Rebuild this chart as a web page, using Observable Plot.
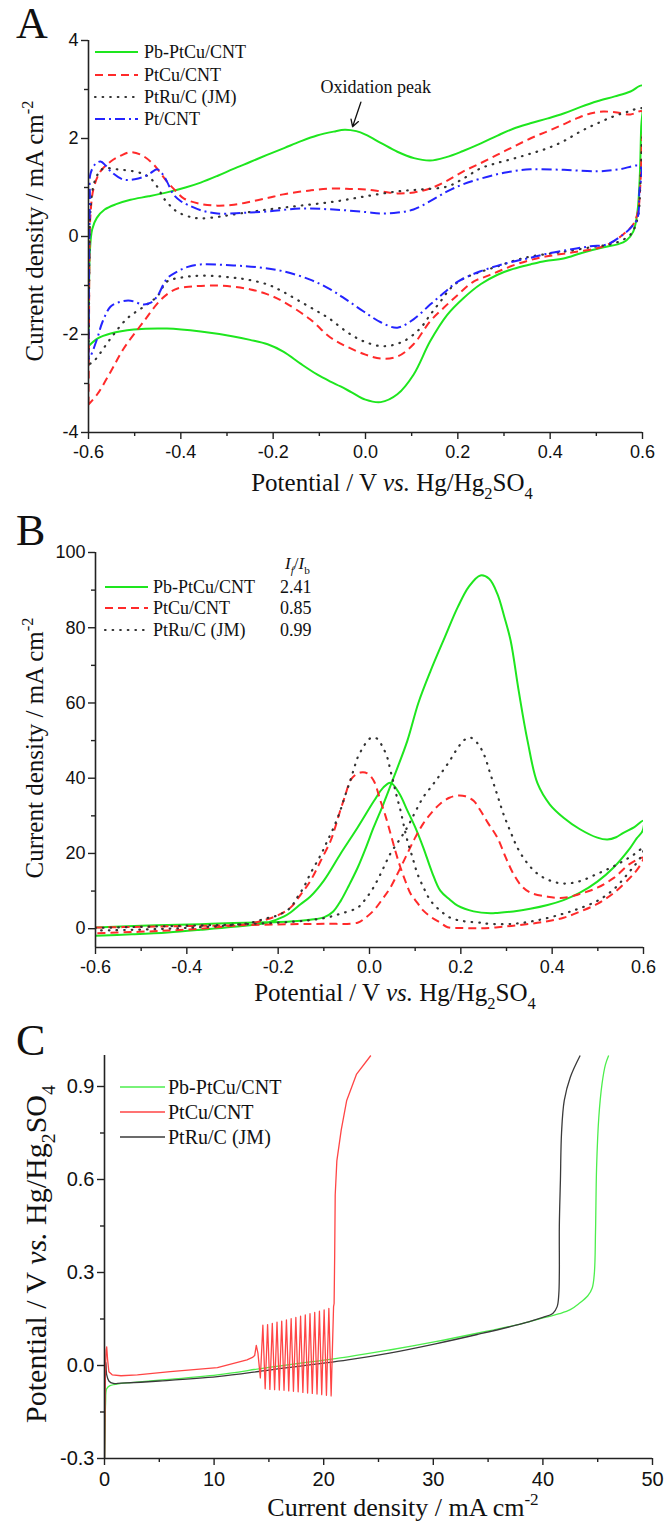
<!DOCTYPE html>
<html><head><meta charset="utf-8">
<script src="https://cdn.jsdelivr.net/npm/d3@7"></script>
<script src="https://cdn.jsdelivr.net/npm/@observablehq/plot@0.6"></script>
<style>
body{margin:0;background:#fff;}
#wrap{position:relative;width:672px;height:1527px;overflow:hidden;}
#wrap svg{position:absolute;left:0;background:transparent;}
</style></head><body><div id="wrap"></div>
<script>
// ---------------- DATA ----------------
// Panel A : cyclic voltammograms, [potential V, current density mA cm-2]
const aPbPtCu = [[-0.600,-2.24],[-0.599,-1.2],[-0.597,-0.3],[-0.592,0.15],[-0.582,0.38],[-0.565,0.55],[-0.54,0.66],[-0.509,0.75],[-0.47,0.82],[-0.43,0.9],[-0.39,1.0],[-0.357,1.1],[-0.32,1.24],[-0.286,1.38],[-0.25,1.52],[-0.212,1.67],[-0.175,1.81],[-0.141,1.94],[-0.105,2.06],[-0.069,2.14],[-0.045,2.18],[-0.02,2.15],[0.0,2.08],[0.035,1.9],[0.069,1.73],[0.105,1.6],[0.14,1.55],[0.175,1.62],[0.21,1.74],[0.25,1.9],[0.286,2.06],[0.32,2.2],[0.357,2.31],[0.395,2.41],[0.429,2.51],[0.465,2.64],[0.502,2.76],[0.54,2.86],[0.574,2.96],[0.6,3.08],[0.597,2.2],[0.594,1.2],[0.589,0.5],[0.58,0.1],[0.565,-0.08],[0.546,-0.16],[0.516,-0.22],[0.47,-0.33],[0.429,-0.45],[0.39,-0.5],[0.357,-0.57],[0.32,-0.66],[0.286,-0.78],[0.25,-0.97],[0.212,-1.26],[0.177,-1.6],[0.14,-2.14],[0.104,-2.82],[0.069,-3.22],[0.033,-3.38],[0.0,-3.33],[-0.03,-3.18],[-0.054,-3.06],[-0.076,-2.96],[-0.104,-2.82],[-0.14,-2.6],[-0.178,-2.35],[-0.212,-2.2],[-0.25,-2.11],[-0.286,-2.04],[-0.357,-1.94],[-0.43,-1.88],[-0.502,-1.9],[-0.552,-1.98],[-0.58,-2.08],[-0.6,-2.24]];
const aPtCu = [[-0.6,-3.43],[-0.599,-2.0],[-0.598,-0.5],[-0.596,0.4],[-0.589,0.98],[-0.574,1.33],[-0.552,1.53],[-0.53,1.65],[-0.509,1.72],[-0.485,1.66],[-0.459,1.47],[-0.43,1.12],[-0.41,0.92],[-0.394,0.78],[-0.36,0.67],[-0.321,0.63],[-0.285,0.65],[-0.249,0.71],[-0.21,0.79],[-0.178,0.86],[-0.12,0.94],[-0.069,0.98],[-0.03,0.97],[0.0,0.96],[0.035,0.92],[0.069,0.88],[0.105,0.9],[0.14,0.98],[0.175,1.13],[0.212,1.33],[0.25,1.5],[0.286,1.67],[0.32,1.83],[0.357,2.0],[0.395,2.15],[0.429,2.29],[0.46,2.42],[0.487,2.51],[0.515,2.55],[0.545,2.53],[0.574,2.49],[0.6,2.55],[0.598,1.8],[0.595,1.0],[0.59,0.5],[0.58,0.25],[0.558,0.04],[0.53,-0.14],[0.502,-0.24],[0.465,-0.3],[0.429,-0.35],[0.39,-0.41],[0.357,-0.48],[0.32,-0.59],[0.286,-0.72],[0.26,-0.82],[0.234,-0.92],[0.2,-1.19],[0.17,-1.45],[0.14,-1.73],[0.104,-2.2],[0.069,-2.45],[0.033,-2.49],[0.0,-2.41],[-0.04,-2.25],[-0.076,-2.06],[-0.12,-1.69],[-0.178,-1.33],[-0.215,-1.17],[-0.249,-1.08],[-0.29,-1.02],[-0.335,-1.0],[-0.375,-1.02],[-0.407,-1.06],[-0.43,-1.18],[-0.451,-1.37],[-0.48,-1.73],[-0.524,-2.29],[-0.552,-2.76],[-0.581,-3.22],[-0.6,-3.43]];
const aPtRu = [[-0.6,-2.61],[-0.599,-1.5],[-0.598,-0.3],[-0.596,0.5],[-0.589,1.05],[-0.578,1.3],[-0.567,1.39],[-0.537,1.37],[-0.502,1.33],[-0.48,1.27],[-0.466,1.19],[-0.45,1.0],[-0.437,0.78],[-0.42,0.6],[-0.407,0.5],[-0.38,0.4],[-0.357,0.37],[-0.32,0.4],[-0.286,0.45],[-0.212,0.55],[-0.141,0.63],[-0.069,0.71],[0.0,0.82],[0.069,0.92],[0.12,0.96],[0.177,1.02],[0.215,1.2],[0.249,1.39],[0.285,1.5],[0.321,1.59],[0.357,1.69],[0.394,1.8],[0.43,1.95],[0.465,2.14],[0.5,2.3],[0.537,2.45],[0.57,2.55],[0.6,2.61],[0.598,1.8],[0.595,1.0],[0.59,0.4],[0.575,0.05],[0.55,-0.1],[0.525,-0.17],[0.502,-0.2],[0.429,-0.31],[0.357,-0.41],[0.32,-0.5],[0.286,-0.61],[0.25,-0.72],[0.212,-0.86],[0.185,-1.05],[0.162,-1.33],[0.14,-1.6],[0.118,-1.88],[0.082,-2.14],[0.039,-2.24],[-0.004,-2.14],[-0.04,-1.95],[-0.076,-1.69],[-0.1,-1.55],[-0.141,-1.33],[-0.18,-1.12],[-0.212,-0.98],[-0.25,-0.89],[-0.286,-0.84],[-0.357,-0.8],[-0.4,-0.84],[-0.43,-0.92],[-0.451,-1.22],[-0.48,-1.43],[-0.516,-1.67],[-0.552,-2.08],[-0.589,-2.55],[-0.6,-2.61]];
const aPt = [[-0.6,-2.5],[-0.599,-1.0],[-0.598,0.0],[-0.597,0.8],[-0.596,1.27],[-0.585,1.48],[-0.574,1.53],[-0.563,1.45],[-0.552,1.33],[-0.524,1.16],[-0.5,1.17],[-0.48,1.22],[-0.465,1.3],[-0.451,1.37],[-0.44,1.28],[-0.43,1.12],[-0.416,0.86],[-0.4,0.72],[-0.386,0.65],[-0.355,0.53],[-0.321,0.47],[-0.27,0.48],[-0.212,0.51],[-0.141,0.57],[-0.069,0.55],[0.0,0.5],[0.033,0.47],[0.07,0.49],[0.104,0.55],[0.14,0.72],[0.177,0.92],[0.21,1.06],[0.249,1.18],[0.3,1.3],[0.357,1.37],[0.43,1.36],[0.502,1.33],[0.55,1.37],[0.595,1.43],[0.593,0.9],[0.589,0.37],[0.575,0.18],[0.558,0.04],[0.524,-0.16],[0.487,-0.2],[0.44,-0.27],[0.394,-0.35],[0.36,-0.43],[0.321,-0.51],[0.285,-0.6],[0.249,-0.71],[0.2,-0.92],[0.17,-1.15],[0.14,-1.39],[0.104,-1.69],[0.069,-1.86],[0.033,-1.75],[-0.004,-1.53],[-0.04,-1.3],[-0.076,-1.08],[-0.12,-0.88],[-0.178,-0.71],[-0.23,-0.63],[-0.286,-0.59],[-0.357,-0.57],[-0.385,-0.62],[-0.407,-0.71],[-0.43,-0.86],[-0.451,-1.22],[-0.465,-1.35],[-0.48,-1.39],[-0.509,-1.31],[-0.53,-1.33],[-0.552,-1.43],[-0.57,-1.75],[-0.581,-2.08],[-0.596,-2.45],[-0.6,-2.5]];

// Panel B : methanol oxidation, [potential V, current density mA cm-2]
const bPbPtCu = [[-0.6,0.3],[-0.5,0.8],[-0.442,1.0],[-0.37,1.2],[-0.298,1.5],[-0.224,1.7],[-0.173,1.9],[-0.13,2.4],[-0.1,3.0],[-0.08,4.5],[-0.063,7.4],[-0.045,11.5],[-0.026,16.2],[-0.008,21.5],[0.009,26.9],[0.03,33],[0.053,40.2],[0.083,50],[0.107,60],[0.134,68.6],[0.165,77.5],[0.193,85.4],[0.218,91],[0.243,93.9],[0.262,93],[0.28,89],[0.295,83],[0.309,76.6],[0.327,63],[0.346,50],[0.368,38.6],[0.395,33],[0.425,29.5],[0.46,26.5],[0.499,24.2],[0.521,23.7],[0.54,24.3],[0.556,25.5],[0.58,27],[0.6,28.7],[0.598,26],[0.585,24],[0.571,21.5],[0.534,16.2],[0.499,12.5],[0.46,9.5],[0.425,7.6],[0.39,6.3],[0.352,5.3],[0.315,4.6],[0.28,4.2],[0.265,4.1],[0.228,4.6],[0.193,6.1],[0.175,7.8],[0.155,10.1],[0.137,15],[0.118,21.5],[0.1,27],[0.083,31.4],[0.065,36],[0.046,38.8],[0.03,37.5],[0.01,34],[-0.026,26.9],[-0.063,20],[-0.1,12.8],[-0.13,8.5],[-0.151,6.5],[-0.173,4.3],[-0.188,3.2],[-0.224,1.6],[-0.298,0.5],[-0.37,-0.3],[-0.442,-1.0],[-0.52,-1.5],[-0.6,-1.9]];
const bPtCu = [[-0.6,0.3],[-0.5,0.5],[-0.4,0.7],[-0.3,0.9],[-0.173,1.2],[-0.1,1.3],[-0.026,1.6],[-0.01,2.8],[0.009,4.8],[0.028,7.8],[0.046,11],[0.065,15.5],[0.083,20],[0.1,24.2],[0.118,28],[0.137,31],[0.155,33.2],[0.175,34.8],[0.193,35.4],[0.21,35.2],[0.228,34],[0.243,31.4],[0.26,28],[0.28,24.2],[0.298,19],[0.315,14.6],[0.332,11.5],[0.352,9.6],[0.39,8.5],[0.425,8.2],[0.46,9.2],[0.499,10.9],[0.535,13.5],[0.571,17.3],[0.6,18.9],[0.598,18],[0.585,15.5],[0.571,13.6],[0.535,9.5],[0.499,6.6],[0.46,4.5],[0.425,2.9],[0.39,2.0],[0.352,1.3],[0.3,0.6],[0.243,0.1],[0.2,0.2],[0.171,0.4],[0.155,1.6],[0.136,3.0],[0.118,4.8],[0.104,7],[0.09,9.3],[0.079,12.5],[0.068,16.2],[0.057,20.5],[0.046,25.3],[0.035,30],[0.024,34],[0.009,39.4],[-0.005,41.3],[-0.02,41.5],[-0.032,40.8],[-0.042,39.4],[-0.053,35.5],[-0.064,31.4],[-0.075,27],[-0.085,23.4],[-0.107,18],[-0.129,12.8],[-0.151,9],[-0.173,5.6],[-0.2,3.6],[-0.224,2.5],[-0.26,1.4],[-0.298,0.8],[-0.37,0],[-0.442,-0.5],[-0.52,-0.9],[-0.6,-1.2]];
const bPtRu = [[-0.6,0.2],[-0.5,0.5],[-0.4,0.8],[-0.3,1.1],[-0.173,1.8],[-0.1,2.8],[-0.063,4],[-0.026,5.6],[-0.008,8],[0.009,11],[0.028,15.5],[0.046,20],[0.065,23.5],[0.083,27],[0.1,31],[0.118,35],[0.137,38],[0.155,41],[0.175,44.5],[0.193,48],[0.208,50.2],[0.221,50.8],[0.235,49.5],[0.25,46.5],[0.265,41],[0.28,35.5],[0.293,30.6],[0.308,26],[0.324,21.5],[0.345,17.5],[0.368,14.6],[0.395,12.8],[0.425,12],[0.46,12.6],[0.499,14.6],[0.53,16.3],[0.556,18],[0.58,19.8],[0.6,21.5],[0.598,20],[0.585,17.5],[0.571,15.4],[0.535,10.5],[0.499,7.4],[0.46,5.4],[0.425,4],[0.37,2.3],[0.315,1.3],[0.26,1.3],[0.243,1.6],[0.206,2.0],[0.177,2.9],[0.155,4.8],[0.134,7.4],[0.12,10.5],[0.105,14.6],[0.094,19],[0.083,23.4],[0.075,27.5],[0.068,31.4],[0.06,35],[0.053,38.6],[0.046,42],[0.039,45.5],[0.028,48.5],[0.017,50.5],[0.005,50.8],[-0.004,50],[-0.015,48],[-0.026,45.5],[-0.034,42.5],[-0.042,39.4],[-0.053,35.5],[-0.064,31.4],[-0.078,27],[-0.092,23.4],[-0.103,20.5],[-0.114,18],[-0.13,14.5],[-0.144,11],[-0.16,8],[-0.173,5.6],[-0.2,3.6],[-0.224,2.8],[-0.26,1.6],[-0.298,1.0],[-0.37,0.4],[-0.442,0],[-0.52,-0.3],[-0.6,-0.5]];
const bRatios = ["2.41", "0.85", "0.99"];

// Panel C : chronopotentiometry, [current density mA cm-2, potential V]
const cPbPtCu = [[0,-0.3],[0.05,-0.2],[0.1,-0.12],[0.2,-0.075],[0.5,-0.065],[1.5,-0.058],[2.4,-0.055],[5,-0.047],[10.3,-0.03],[15,-0.006],[22.2,0.028],[26,0.05],[30.2,0.077],[34,0.104],[38.1,0.135],[40.2,0.155],[41.5,0.167],[42.5,0.18],[43.3,0.2],[44.1,0.225],[44.5,0.25],[44.7,0.3],[44.8,0.43],[44.9,0.64],[45.1,0.8],[45.4,0.91],[45.7,0.97],[46.0,1.0]];
const cPtRu = [[0,-0.3],[0.03,-0.1],[0.06,0.0],[0.12,0.01],[0.2,-0.03],[0.4,-0.05],[0.8,-0.058],[1.5,-0.057],[5,-0.05],[10.3,-0.036],[15,-0.015],[22.2,0.018],[26,0.04],[30.2,0.07],[34,0.1],[38.1,0.135],[40,0.155],[40.9,0.168],[41.3,0.19],[41.45,0.23],[41.5,0.3],[41.5,0.45],[41.6,0.6],[41.7,0.75],[41.95,0.855],[42.5,0.93],[43.4,1.0]];
const cPtCuStart = [[0,-0.3],[0.05,-0.1],[0.1,0.0],[0.15,0.05],[0.2,0.06],[0.28,0.02],[0.4,-0.02],[0.7,-0.03],[1.5,-0.033],[3,-0.03],[6,-0.02],[10.3,-0.007],[13,0.018],[13.5,0.026],[13.7,0.032],[13.85,0.065],[14.0,0.04]];
const cPtCuTroughI = [14.22,14.66,15.09,15.52,15.95,16.38,16.81,17.24,17.67,18.1,18.53,18.96,19.39,19.82,20.25,20.68];
const cPtCuTroughV = [-0.04,-0.075,-0.077,-0.078,-0.079,-0.08,-0.082,-0.083,-0.085,-0.087,-0.089,-0.09,-0.092,-0.094,-0.096,-0.098];
const cPtCuPeakI = [14.45,14.88,15.31,15.74,16.17,16.6,17.03,17.46,17.89,18.32,18.75,19.18,19.61,20.04,20.47,20.9];
const cPtCuPeakV = [0.13,0.132,0.136,0.14,0.143,0.147,0.151,0.155,0.159,0.163,0.167,0.171,0.175,0.179,0.184,0.19];
const cPtCuEnd = [[20.95,0.2],[21.0,0.35],[21.05,0.55],[21.2,0.66],[21.6,0.76],[22.1,0.855],[23.0,0.94],[24.3,1.0]];

const names = ["Pb-PtCu/CNT", "PtCu/CNT", "PtRu/C (JM)", "Pt/CNT"];

// ---------------- STYLE ----------------
const SERIF = "'Liberation Serif','Times New Roman',Times,serif";
const SANS = "'Liberation Sans',Arial,Helvetica,sans-serif";
const AX = "#222";
const styA = [
  {stroke: "#1ee61e", dash: null, w: 2},
  {stroke: "#ff2a2a", dash: "8,5", w: 2},
  {stroke: "#333", dash: "0.6,7", w: 2.2, cap: "round"},
  {stroke: "#2424ff", dash: "10,4,2,4", w: 2}
];
const styC = [
  {stroke: "#4cee4c", dash: null, w: 1.3},
  {stroke: "#ff4545", dash: null, w: 1.3},
  {stroke: "#3a3a3a", dash: null, w: 1.3}
];

const wrap = document.getElementById("wrap");

function richText(sel, parts, size) {
  let shift = 0;
  for (const p of parts) {
    const ts = sel.append("tspan").text(p.t);
    const target = p.sub ? size * 0.3 : p.sup ? -size * 0.42 : 0;
    const dy = target - shift;
    if (dy) ts.attr("dy", dy);
    shift = target;
    if (p.sub || p.sup) ts.attr("font-size", size * 0.66);
    if (p.it) ts.attr("font-style", "italic");
  }
}
function addTitle(svg, x, y, parts, size, rotate) {
  const t = d3.select(svg).append("text")
    .attr("transform", `translate(${x},${y})` + (rotate ? " rotate(-90)" : ""))
    .attr("text-anchor", "middle").attr("font-family", SERIF)
    .attr("font-size", size).attr("fill", "#111");
  richText(t, parts, size);
}
function addLetter(svg, x, y, s, size) {
  d3.select(svg).append("text").attr("x", x).attr("y", y).attr("font-family", SERIF)
    .attr("text-anchor", "start").attr("font-size", size).attr("fill", "#111").text(s);
}
function addLegend(svg, x0, x1, xt, rows, sty, size, rowsY) {
  const g = d3.select(svg).append("g").attr("text-anchor", "start");
  rows.forEach((name, i) => {
    const s = sty[i], y = rowsY[i];
    const l = g.append("line").attr("x1", x0).attr("x2", x1).attr("y1", y).attr("y2", y)
      .attr("stroke", s.stroke).attr("stroke-width", s.w);
    if (s.dash) l.attr("stroke-dasharray", s.dash);
    if (s.cap) l.attr("stroke-linecap", s.cap);
    g.append("text").attr("x", xt).attr("y", y + size * 0.33).attr("font-family", SERIF)
      .attr("text-anchor", "start").attr("font-size", size).attr("fill", "#111").text(name);
  });
  return g;
}

const potParts = [{t: "Potential / V "}, {t: "vs.", it: true}, {t: " Hg/Hg"}, {t: "2", sub: true}, {t: "SO"}, {t: "4", sub: true}];
const curParts = [{t: "Current density / mA cm"}, {t: "-2", sup: true}];

function makePanel(cfg) {
  const marks = [
    Plot.axisX(cfg.xTicks, {tickSize: 7, tickPadding: cfg.xPad, tickFormat: cfg.xFmt, fontSize: cfg.tickFont, label: null, strokeWidth: 1.4, stroke: AX, fill: "#111"}),
    Plot.axisX(cfg.xMinor, {tickSize: 4, tickFormat: () => "", label: null, strokeWidth: 1.4, stroke: AX}),
    Plot.axisY(cfg.yTicks, {tickSize: 7, tickPadding: 3, tickFormat: cfg.yFmt, fontSize: cfg.tickFont, label: null, strokeWidth: 1.4, stroke: AX, fill: "#111"}),
    Plot.axisY(cfg.yMinor, {tickSize: 4, tickFormat: () => "", label: null, strokeWidth: 1.4, stroke: AX}),
    ...cfg.series.map(s => Plot.line(s.data, {
      x: d => d[0], y: d => d[1], stroke: s.stroke, strokeWidth: s.w,
      strokeDasharray: s.dash || undefined, strokeLinecap: s.cap || "butt",
      strokeLinejoin: "round", curve: s.curve || "catmull-rom", clip: true
    })),
    ...(cfg.extra || []),
    Plot.ruleX([cfg.xDomain[0]], {stroke: AX, strokeWidth: 1.6}),
    Plot.ruleY([cfg.yDomain[0]], {stroke: AX, strokeWidth: 1.6})
  ];
  const svg = Plot.plot({
    width: 672, height: cfg.height,
    marginTop: cfg.mt, marginBottom: cfg.mb, marginLeft: cfg.ml, marginRight: cfg.mr,
    x: {domain: cfg.xDomain, axis: null},
    y: {domain: cfg.yDomain, axis: null},
    style: {fontFamily: SANS, fontSize: cfg.tickFont + "px", color: "#111", background: "transparent", overflow: "visible"},
    marks
  });
  svg.style.top = cfg.top + "px";
  wrap.appendChild(svg);
  return svg;
}

const range = (a, b, s) => d3.range(0, Math.round((b - a) / s) + 1).map(i => +(a + i * s).toFixed(4));

// ---------------- PANEL A ----------------
const svgA = makePanel({
  top: 0, height: 505, mt: 40, mb: 73, ml: 88, mr: 30, xPad: 6,
  xDomain: [-0.6, 0.6], yDomain: [-4, 4],
  xTicks: range(-0.6, 0.6, 0.2), xMinor: range(-0.5, 0.5, 0.2),
  yTicks: range(-4, 4, 2), yMinor: range(-3, 3, 2),
  xFmt: d => d.toFixed(1), yFmt: d => String(d), tickFont: 18,
  series: [aPbPtCu, aPtCu, aPtRu, aPt].map((d, i) => ({data: d, ...styA[i]})),
  extra: [
    Plot.text(["Oxidation peak"], {x: 0.022, y: 3.04, text: d => d, fontFamily: SERIF, fontSize: 18, fill: "#111"}),
    Plot.arrow([0], {x1: -0.01, y1: 2.74, x2: -0.028, y2: 2.24, stroke: "#111", strokeWidth: 1.3, headLength: 9})
  ]
});
addLetter(svgA, 16, 38, "A", 44);
addTitle(svgA, 392, 491, potParts, 25, false);
addTitle(svgA, 43, 231, curParts, 25, true);
addLegend(svgA, 95, 138, 144, names, styA, 18, [52, 75, 97, 119]);

// ---------------- PANEL B ----------------
const svgB = makePanel({
  top: 490, height: 525, mt: 62, mb: 68, ml: 95, mr: 29, xPad: 6,
  xDomain: [-0.6, 0.6], yDomain: [-5, 100],
  xTicks: range(-0.6, 0.6, 0.2), xMinor: range(-0.5, 0.5, 0.2),
  yTicks: range(0, 100, 20), yMinor: range(10, 90, 20),
  xFmt: d => d.toFixed(1), yFmt: d => String(d), tickFont: 18,
  series: [bPbPtCu, bPtCu, bPtRu].map((d, i) => ({data: d, ...styA[i]}))
});
addLetter(svgB, 16, 55, "B", 44);
addTitle(svgB, 395, 511, potParts, 25, false);
addTitle(svgB, 43, 258, curParts, 25, true);
addLegend(svgB, 105, 148, 153, names.slice(0, 3), styA, 18, [97, 118, 140]);
{
  const g = d3.select(svgB).append("g").attr("text-anchor", "start");
  const h = g.append("text").attr("x", 285).attr("y", 79).attr("font-family", SERIF).attr("font-size", 17).attr("fill", "#111");
  richText(h, [{t: "I", it: true}, {t: "f", sub: true, it: true}, {t: "/"}, {t: "I", it: true}, {t: "b", sub: true}], 17);
  bRatios.forEach((r, i) => {
    g.append("text").attr("x", 280).attr("y", [97, 118, 140][i] + 6).attr("font-family", SERIF)
      .attr("font-size", 18).attr("fill", "#111").text(r);
  });
}

// ---------------- PANEL C ----------------
const cPtCu = [...cPtCuStart];
cPtCuTroughI.forEach((ti, i) => {
  cPtCu.push([ti, cPtCuTroughV[i]]);
  cPtCu.push([cPtCuPeakI[i], cPtCuPeakV[i]]);
});
cPtCu.push(...cPtCuEnd);
const svgC = makePanel({
  top: 1000, height: 527, mt: 55, mb: 69, ml: 104, mr: 20, xPad: 6,
  xDomain: [0, 50], yDomain: [-0.3, 1.0],
  xTicks: range(0, 50, 10), xMinor: range(5, 45, 10),
  yTicks: range(-0.3, 0.9, 0.3), yMinor: range(-0.15, 0.75, 0.3),
  xFmt: d => String(d), yFmt: d => d.toFixed(1), tickFont: 20,
  series: [
    {data: cPbPtCu, ...styC[0]},
    {data: cPtRu, ...styC[2]},
    {data: cPtCu, ...styC[1], curve: "linear"}
  ]
});
addLetter(svgC, 16, 55, "C", 44);
addTitle(svgC, 403, 516, curParts, 26, false);
addTitle(svgC, 46, 254, potParts, 30, true);
addLegend(svgC, 120, 165, 168, names.slice(0, 3), styC, 20, [87, 112, 137]);
</script></body></html>
